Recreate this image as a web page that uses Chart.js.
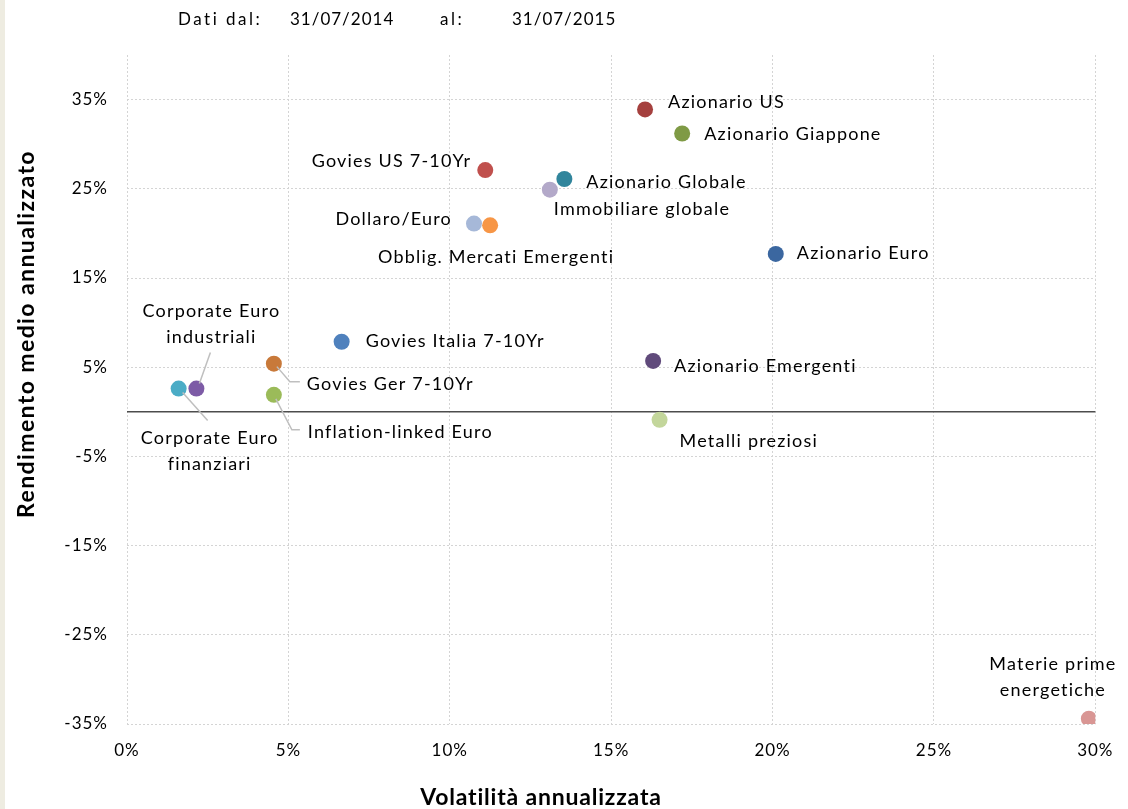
<!DOCTYPE html>
<html>
<head>
<meta charset="utf-8">
<script src="https://cdn.jsdelivr.net/npm/chart.js"></script>
<style>
html, body { margin: 0; padding: 0; background: #fff; }
body { width: 1128px; height: 809px; overflow: hidden; position: relative; }
#strip { position: absolute; left: 0; top: 0; width: 5px; height: 809px; background: #eeece1; }
canvas { position: absolute; left: 0; top: 0; }
</style>
</head>
<body>
<canvas id="myChart" width="1128" height="809"></canvas>
<div id="strip"></div>
<script>
// data (volatility %, return %)
const names = [
  'Azionario US', 'Azionario Giappone', 'Govies US 7-10Yr', 'Azionario Globale',
  'Immobiliare globale', 'Dollaro/Euro', 'Obblig. Mercati Emergenti', 'Azionario Euro',
  'Govies Italia 7-10Yr', 'Govies Ger 7-10Yr', 'Corporate Euro industriali', 'Corporate Euro finanziari',
  'Inflation-linked Euro', 'Azionario Emergenti', 'Metalli preziosi', 'Materie prime energetiche'
];
const volatility = [16.05, 17.2, 11.1, 13.55, 13.1, 10.75, 11.25, 20.1, 6.65, 4.55, 2.15, 1.6, 4.55, 16.3, 16.5, 29.8];
const returns = [33.9, 31.2, 27.1, 26.1, 24.9, 21.1, 20.9, 17.7, 7.85, 5.4, 2.6, 2.6, 1.9, 5.7, -0.9, -34.4];
const colors = [
  '#a5403e', '#7f9a45', '#c0504d', '#31859c', '#b3a9c9', '#a6b8d8', '#f79646', '#3b67a0',
  '#4f81bd', '#c8793a', '#7d5ba6', '#4bacc6', '#9bbb59', '#604a7b', '#c3d69b', '#d99694'
];
const xTicks = [0, 5, 10, 15, 20, 25, 30];
const yTicks = [-35, -25, -15, -5, 5, 15, 25, 35];

// label placement relative to each point: [dx, dy, align, lines, leader]
const labelLayout = [
  [23, -7, 'left', ['Azionario US']],
  [22, 1, 'left', ['Azionario Giappone']],
  [-14, -9, 'right', ['Govies US 7-10Yr']],
  [22, 3, 'left', ['Azionario Globale']],
  [4, 19, 'left', ['Immobiliare globale']],
  [-22, -4, 'right', ['Dollaro/Euro']],
  [6, 32, 'center', ['Obblig. Mercati Emergenti']],
  [21, -1, 'left', ['Azionario Euro']],
  [24, -1, 'left', ['Govies Italia 7-10Yr']],
  [33, 21, 'left', ['Govies Ger 7-10Yr'], [[3, 3], [16, 18], [26, 18]]],
  [15, -77, 'center', ['Corporate Euro', 'industriali'], [[3, -5], [14, -36]]],
  [31, 50, 'center', ['Corporate Euro', 'finanziari'], [[4, 4], [29, 32]]],
  [34, 37, 'left', ['Inflation-linked Euro'], [[2, 4], [18, 35], [26, 35]]],
  [21, 5, 'left', ['Azionario Emergenti']],
  [20, 21, 'left', ['Metalli preziosi']],
  [-36, -54, 'center', ['Materie prime', 'energetiche']]
];

const FONT = 'Lato, "Open Sans", sans-serif';

const extras = {
  id: 'extras',
  beforeDraw(chart) {
    chart.ctx.letterSpacing = '1px';
  },
  beforeDatasetsDraw(chart) {
    const ctx = chart.ctx;
    const area = chart.chartArea;
    const y0 = chart.scales.y.getPixelForValue(0);
    ctx.save();
    ctx.strokeStyle = '#4d4d4d';
    ctx.lineWidth = 1.5;
    ctx.beginPath();
    ctx.moveTo(area.left, y0);
    ctx.lineTo(area.right, y0);
    ctx.stroke();
    ctx.restore();
  },
  afterDatasetsDraw(chart) {
    const ctx = chart.ctx;
    const meta = chart.getDatasetMeta(0);
    ctx.save();
    // leader lines
    ctx.strokeStyle = '#bfbfbf';
    ctx.lineWidth = 1.5;
    labelLayout.forEach((l, i) => {
      if (!l[4]) return;
      const p = meta.data[i];
      ctx.beginPath();
      l[4].forEach((q, k) => {
        if (k === 0) ctx.moveTo(p.x + q[0], p.y + q[1]);
        else ctx.lineTo(p.x + q[0], p.y + q[1]);
      });
      ctx.stroke();
    });
    // point labels
    ctx.fillStyle = '#000';
    ctx.font = '18px ' + FONT;
    ctx.letterSpacing = '1.2px';
    ctx.textBaseline = 'middle';
    labelLayout.forEach((l, i) => {
      const p = meta.data[i];
      ctx.textAlign = l[2];
      l[3].forEach((t, k) => {
        ctx.fillText(t, p.x + l[0], p.y + l[1] + k * 26);
      });
    });
    // header and axis titles
    ctx.textAlign = 'left';
    ctx.font = '17px ' + FONT;
    ctx.letterSpacing = '2.5px';
    ctx.fillText('Dati dal:', 178, 20);
    ctx.fillText('al:', 440, 20);
    ctx.letterSpacing = '1px';
    ctx.fillText('31/07/2014', 290, 20);
    ctx.fillText('31/07/2015', 512, 20);
    ctx.textAlign = 'center';
    ctx.font = 'bold 23px ' + FONT;
    ctx.letterSpacing = '0.8px';
    ctx.fillText('Volatilità annualizzata', 541, 798);
    ctx.translate(27, 334);
    ctx.rotate(-Math.PI / 2);
    ctx.letterSpacing = '1.4px';
    ctx.fillText('Rendimento medio annualizzato', 0, 0);
    ctx.restore();
  }
};

const ctx = document.getElementById('myChart').getContext('2d');
new Chart(ctx, {
  type: 'scatter',
  data: {
    datasets: [{
      label: 'Asset',
      data: volatility.map((v, i) => ({ x: v, y: returns[i] })),
      pointBackgroundColor: colors,
      pointBorderWidth: 0,
      pointRadius: 8,
      pointHoverRadius: 8
    }]
  },
  options: {
    responsive: false,
    animation: false,
    layout: { padding: { top: 55, right: 30, left: 0, bottom: 0 } },
    plugins: { legend: { display: false }, tooltip: { enabled: false } },
    scales: {
      x: {
        type: 'linear',
        min: 0,
        max: 30,
        afterBuildTicks: (scale) => { scale.ticks = xTicks.map(v => ({ value: v })); },
        afterFit: (scale) => { scale.height = 85; },
        ticks: { callback: v => v + '%', color: '#000', font: { size: 17, family: FONT }, padding: 16, maxRotation: 0 },
        grid: { color: '#d4d4d4', lineWidth: 1, drawTicks: false },
        border: { display: false, dash: [2, 2] }
      },
      y: {
        min: -35,
        max: 40,
        afterBuildTicks: (scale) => { scale.ticks = yTicks.map(v => ({ value: v })); },
        afterFit: (scale) => { scale.width = 127; },
        ticks: { callback: v => v + '%', color: '#000', font: { size: 17, family: FONT }, padding: 19 },
        grid: { color: '#d4d4d4', lineWidth: 1, drawTicks: false },
        border: { display: false, dash: [2, 2] }
      }
    }
  },
  plugins: [extras]
});
</script>
</body>
</html>
